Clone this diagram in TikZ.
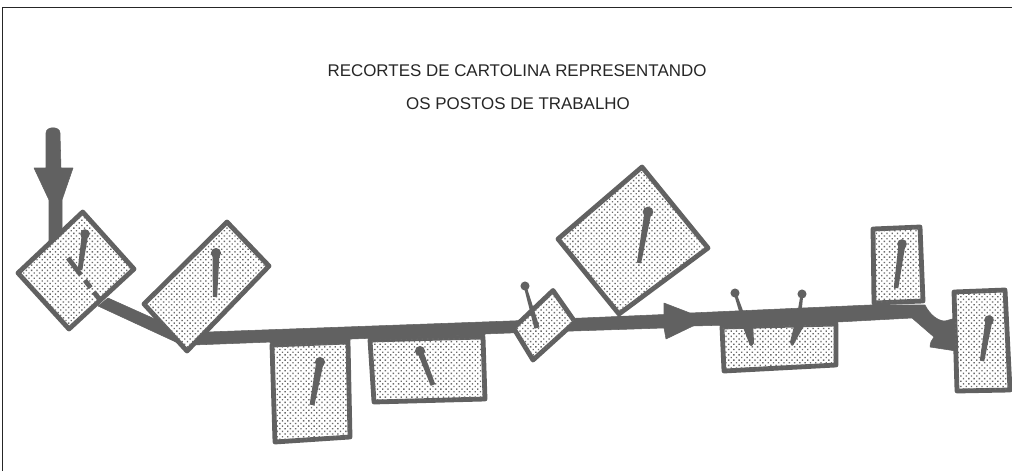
\documentclass[tikz,border=0pt]{standalone}
\usepackage{fontspec}
\setmainfont{Liberation Sans}
\usetikzlibrary{calc,patterns.meta}
\definecolor{ink}{HTML}{616161}
\tikzset{
  card/.style={draw=ink,line width=3.6pt,line join=round,fill=white,
    postaction={pattern={Dots[radius=0.72pt,distance=2.8pt,angle=45]},pattern color=black!58}},
  band/.style={fill=ink,draw=ink,line width=.4pt,line join=round},
  title/.style={font=\fontsize{12.7pt}{14pt}\selectfont,text=black!85,inner sep=0pt},
  frameline/.style={draw=black!85,line width=1pt}
}
% ball head, shaft half-width at head (#4) and at the point (#5)
\newcommand{\pinshape}[5]{%
  \fill[ink] ($(#1)!#4!90:(#2)$) -- ($(#2)!#5!-90:(#1)$) -- ($(#2)!#5!90:(#1)$) -- ($(#1)!#4!-90:(#2)$) -- cycle;
  \fill[ink] (#1) circle[radius=#3];}
\begin{document}
\begin{tikzpicture}[x=0.75pt,y=-0.75pt]
\useasboundingbox (0,0) rectangle (1012,471);
\fill[white] (0,0) rectangle (1012,471);
\coordinate (frameBL) at (2.5,471);
\coordinate (frameTL) at (2.5,7.5);
\coordinate (frameTR) at (1012,7.5);
\draw[frameline] (frameBL) -- (frameTL) -- (frameTR);
\node[title] (t1) at (517,71) {RECORTES DE CARTOLINA REPRESENTANDO};
\node[title] (t2) at (518,104) {OS POSTOS DE TRABALHO};
% flow band
\path[band] (46,133) .. controls (46,126) and (60,126) .. (60,133) -- (61,168) -- (73,168) -- (62,200) -- (62,245) -- (49,245) -- (49,200) -- (34,168) -- (46,168) -- cycle;
\path[band] (108,298) -- (157,320) -- (180,330) -- (207,332) -- (510,321) -- (582,318) -- (664,314.5) -- (664,303) -- (690,313) -- (870,305) -- (925,305) .. controls (930,315) and (938,321) .. (945,321) -- (956,318) -- (956,351) -- (930,347) .. controls (930,342) and (932,340) .. (934,337) -- (912,318) -- (838,322) -- (693,326) -- (666,339) -- (664,328) -- (573,331) -- (510,333) -- (193,345) -- (178,343) -- (98,306) -- cycle;
% cards
\path[card] (82.7,212) -- (134,269) -- (69,329) -- (18,273) -- cycle;
\path[card] (227,222) -- (269,266) -- (187,351) -- (144,304) -- cycle;
\path[card] (272,345) -- (348,342) -- (350,437) -- (275,442) -- cycle;
\path[card] (370,340) -- (483,337) -- (485,399) -- (374,402) -- cycle;
\path[card] (553,290.5) -- (575,322) -- (533,360) -- (513.5,328) -- cycle;
\path[card] (642,167) -- (708,248) -- (619,314) -- (558,239) -- cycle;
\path[card] (722,327) -- (836,324) -- (836,365) -- (724,371) -- cycle;
\path[card] (873,229) -- (920,227) -- (923,301) -- (874,303) -- cycle;
\path[card] (954,292) -- (1005,290) -- (1010,390) -- (957,391) -- cycle;
% band seen through the first card
\draw[ink,line width=3.6pt,dash pattern=on 16pt off 5pt on 7pt off 4pt on 8pt off 50pt] (68,258) -- (100,300);
% band on top of lower cards
\path[band] (270,331) -- (350,328) -- (350,341) -- (270,343) -- cycle;
\path[band] (368,327) -- (485,323) -- (485,335) -- (368,338) -- cycle;
\path[band] (720,313) -- (838,308) -- (838,322) -- (720,326) -- cycle;
\path[band] (618,316) -- (640,316) -- (640,327) -- (618,327) -- cycle;
% pins
\pinshape{85,234}{80,270}{3.6pt}{2.4pt}{1.7pt}
\pinshape{216,253}{215,297}{3.8pt}{2.6pt}{1.6pt}
\pinshape{320,362}{312,405}{3.8pt}{2.8pt}{1.8pt}
\pinshape{420,351}{433,385}{3.8pt}{2.2pt}{1.8pt}
\pinshape{525,286}{537,328}{3.4pt}{1pt}{2pt}
\pinshape{648,212}{639,263}{4pt}{2.6pt}{1.6pt}
\pinshape{735,293}{745,323}{3.4pt}{1pt}{1.8pt}
\pinshape{802,294}{798,323}{3.4pt}{1pt}{1.8pt}
\fill[ink] (741,322) -- (753,322) -- (754,343) .. controls (752,347) and (750,347) .. (749,343) -- cycle;
\fill[ink] (795,322) -- (806,322) -- (795,342) .. controls (793,347) and (791,347) .. (790,342) -- cycle;
\pinshape{902,244}{896,288}{3.6pt}{2.6pt}{1.7pt}
\pinshape{989,320}{982,361}{3.6pt}{2.6pt}{1.7pt}
\end{tikzpicture}
\end{document}
